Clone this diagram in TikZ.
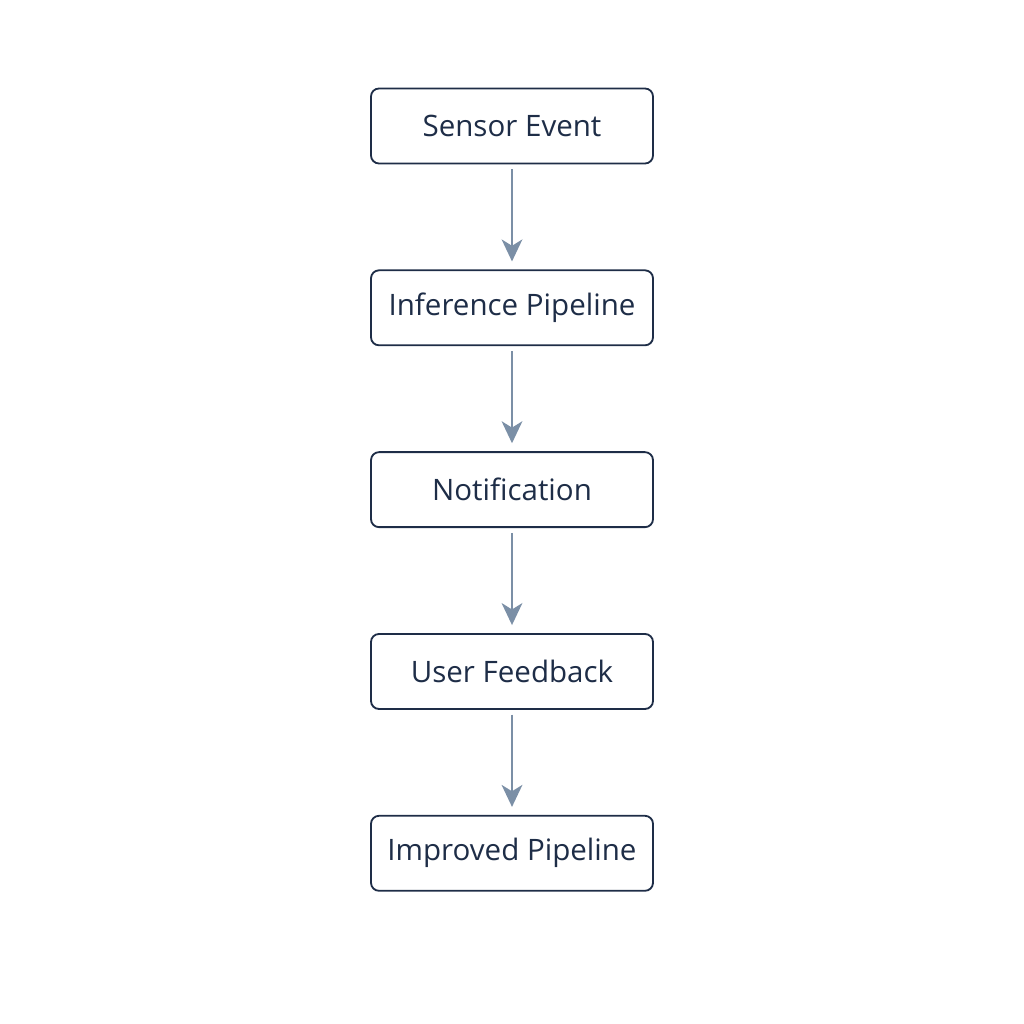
\documentclass[tikz,border=0pt]{standalone}
\usepackage{fontspec}
\setmainfont{Open Sans}
\usepackage{tikz}
\usetikzlibrary{positioning, arrows.meta}
\definecolor{navy}{HTML}{1E2D47}
\definecolor{slate}{HTML}{7B8FA6}
\tikzstyle{stage} = [rectangle, rounded corners=0.2cm, minimum width=7.05cm, minimum height=1.875cm, text centered, draw=navy, line width=1.3pt, text=navy, font=\fontsize{21}{24}\selectfont]
\tikzstyle{arrow} = [draw=slate, line width=1.2pt, -{Stealth[length=5.5mm,width=5.2mm,inset=1.6mm]}, shorten <=0.12cm, shorten >=0.2cm]

\begin{document}
\begin{tikzpicture}[node distance=2.625cm]
	\useasboundingbox (0,0) rectangle (25.6,25.6);

	\node (sensor) [stage] at (12.8,22.45) {Sensor Event};
	\node (inference) [stage, below=of sensor] {Inference Pipeline};
	\node (notify) [stage, below=of inference] {Notification};
	\node (feedback) [stage, below=of notify] {User Feedback};
	\node (improved) [stage, below=of feedback] {Improved Pipeline};

	\draw [arrow] (sensor) -- (inference);
	\draw [arrow] (inference) -- (notify);
	\draw [arrow] (notify) -- (feedback);
	\draw [arrow] (feedback) -- (improved);

\end{tikzpicture}
\end{document}
